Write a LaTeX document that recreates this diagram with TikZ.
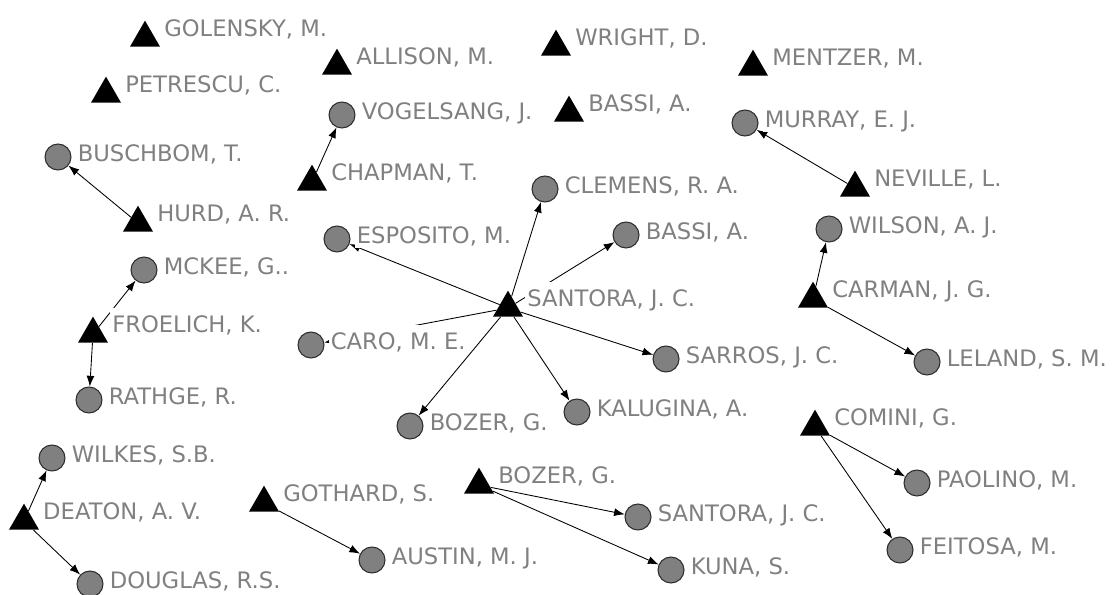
\documentclass[tikz,border=0pt]{standalone}
\usepackage{fontspec}
\setmainfont{DejaVu Sans}
\usetikzlibrary{arrows.meta}
\usetikzlibrary{shapes.geometric}
\usetikzlibrary{backgrounds}
\definecolor{namegray}{RGB}{128,128,128}
\definecolor{diskgray}{RGB}{128,128,128}
\definecolor{rimgray}{RGB}{45,45,45}

\begin{document}
\begin{tikzpicture}[x=0.75pt, y=-0.75pt,
    authorname/.style={fill=white, text=namegray, inner xsep=1.5pt, inner ysep=0.8pt,
      text height=17.5pt, text depth=3pt, font=\fontsize{17}{20}\selectfont},
    tri/.style={regular polygon, regular polygon sides=3, fill=black, inner sep=0pt,
      minimum size=26pt, label={[authorname, label distance=5pt, yshift=8.5pt]0:#1}},
    disk/.style={circle, fill=diskgray, draw=rimgray, line width=0.8pt, inner sep=0pt,
      minimum size=19.5pt, label={[authorname, label distance=3pt, yshift=4pt]0:#1}},
    cites/.style={line width=0.65pt, -{Latex[length=8pt,width=6pt]}}]
  \useasboundingbox (0,0) rectangle (1113,595);
  % triangles
  \node[tri={GOLENSKY, M.}] (golensky) at (145,38) {};
  \node[tri={PETRESCU, C.}] (petrescu) at (106,94) {};
  \node[tri={ALLISON, M.}] (allison) at (337,66) {};
  \node[tri={CHAPMAN, T.}] (chapman) at (312,182) {};
  \node[tri={HURD, A. R.}] (hurd) at (138,223) {};
  \node[tri={FROELICH, K.}] (froelich) at (93,334) {};
  \node[tri={DEATON, A. V.}] (deaton) at (24,521) {};
  \node[tri={GOTHARD, S.}] (gothard) at (264,503) {};
  \node[tri={WRIGHT, D.}] (wright) at (556,47) {};
  \node[tri={BASSI, A.}] (bassiT) at (569,113) {};
  \node[tri={SANTORA, J. C.}] (santoraT) at (508,308) {};
  \node[tri={BOZER, G.}] (bozerT) at (479,485) {};
  \node[tri={MENTZER, M.}] (mentzer) at (753,67) {};
  \node[tri={NEVILLE, L.}] (neville) at (855,188) {};
  \node[tri={CARMAN, J. G.}] (carman) at (813,299) {};
  \node[tri={COMINI, G.}] (comini) at (815,427) {};
  % circles
  \node[disk={VOGELSANG, J.}] (vogelsang) at (342,115) {};
  \node[disk={BUSCHBOM, T.}] (buschbom) at (58,157) {};
  \node[disk={MCKEE, G..}] (mckee) at (144,270) {};
  \node[disk={RATHGE, R.}] (rathge) at (89,400) {};
  \node[disk={WILKES, S.B.}] (wilkes) at (52,458) {};
  \node[disk={DOUGLAS, R.S.}] (douglas) at (90,584) {};
  \node[disk={CARO, M. E.}] (caro) at (311,345) {};
  \node[disk={ESPOSITO, M.}] (esposito) at (337,239) {};
  \node[disk={CLEMENS, R. A.}] (clemens) at (545,189) {};
  \node[disk={BASSI, A.}] (bassiC) at (626,235) {};
  \node[disk={SARROS, J. C.}] (sarros) at (666,359) {};
  \node[disk={KALUGINA, A.}] (kalugina) at (577,412) {};
  \node[disk={BOZER, G.}] (bozerC) at (410,426) {};
  \node[disk={AUSTIN, M. J.}] (austin) at (372,560) {};
  \node[disk={SANTORA, J. C.}] (santoraC) at (638,517) {};
  \node[disk={KUNA, S.}] (kuna) at (671,570) {};
  \node[disk={MURRAY, E. J.}] (murray) at (745,123) {};
  \node[disk={WILSON, A. J.}] (wilson) at (829,229) {};
  \node[disk={LELAND, S. M.}] (leland) at (927,362) {};
  \node[disk={PAOLINO, M.}] (paolino) at (917,483) {};
  \node[disk={FEITOSA, M.}] (feitosa) at (900,550) {};
  % links go under the names
  \begin{pgfonlayer}{background}
    \fill[white] (0,0) rectangle (1113,595);
    \foreach \from/\to in {hurd/buschbom, chapman/vogelsang, froelich/mckee, froelich/rathge,
        deaton/wilkes, deaton/douglas, gothard/austin,
        santoraT/esposito, santoraT/clemens, santoraT/bassiC, santoraT/sarros,
        santoraT/kalugina, santoraT/bozerC, santoraT/caro,
        bozerT/santoraC, bozerT/kuna, neville/murray,
        carman/wilson, carman/leland, comini/paolino, comini/feitosa}
      \draw[cites] (\from) -- (\to);
  \end{pgfonlayer}
\end{tikzpicture}
\end{document}
